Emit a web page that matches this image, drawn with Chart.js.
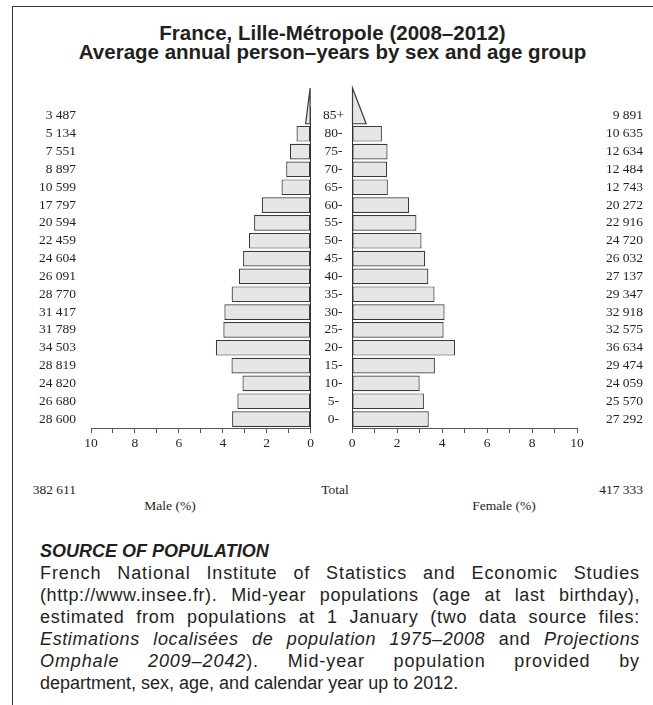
<!DOCTYPE html>
<html>
<head>
<meta charset="utf-8">
<script src="https://cdn.jsdelivr.net/npm/chart.js@4/dist/chart.umd.min.js"></script>
<style>
html,body{margin:0;padding:0;background:#fff;}
#page{position:relative;width:653px;height:705px;overflow:hidden;font-family:"Liberation Sans",Arial,Helvetica,sans-serif;color:#231f20;}
#frame{position:absolute;left:12px;top:6px;width:641px;height:699px;border-left:1px solid #333;border-top:1px solid #333;box-sizing:border-box;}
#title{position:absolute;left:12px;top:23px;width:641px;text-align:center;font-weight:bold;font-size:20.5px;line-height:19px;}
canvas{position:absolute;}
.lab{position:absolute;font-family:"Liberation Serif","Times New Roman",serif;font-size:13.5px;line-height:14px;color:#231f20;white-space:nowrap;}
#source{position:absolute;left:40px;width:600px;top:540px;font-size:18px;line-height:22px;}
#source .h{font-weight:bold;font-style:italic;}
#source .j{text-align:justify;text-align-last:justify;white-space:nowrap;}
</style>
</head>
<body>
<div id="page">
  <div id="frame"></div>
  <div id="title">France, Lille-Métropole (2008–2012)<br>Average annual person–years by sex and age group</div>
  <canvas id="male" width="316" height="378" style="left:0;top:80px;width:316px;height:378px"></canvas>
  <canvas id="female" width="337" height="378" style="left:316px;top:80px;width:337px;height:378px"></canvas>
  <div class="lab" id="maleTotal" style="right:577px;top:483px;text-align:right"></div>
  <div class="lab" id="totalLab" style="left:300px;width:70px;top:483px;text-align:center"></div>
  <div class="lab" id="femaleTotal" style="right:10px;top:483px;text-align:right"></div>
  <div class="lab" id="maleCap" style="left:110px;width:120px;top:499px;text-align:center"></div>
  <div class="lab" id="femaleCap" style="left:444px;width:120px;top:499px;text-align:center"></div>
  <div id="source">
    <div class="h">SOURCE OF POPULATION</div>
    <div class="j">French National Institute of Statistics and Economic Studies</div>
    <div class="j">(http://www.insee.fr). Mid-year populations (age at last birthday),</div>
    <div class="j">estimated from populations at 1 January (two data source files:</div>
    <div class="j"><i>Estimations localisées de population 1975–2008</i> and <i>Projections</i></div>
    <div class="j"><i>Omphale 2009–2042</i>). Mid-year population provided by</div>
    <div>department, sex, age, and calendar year up to 2012.</div>
  </div>
</div>
<script>
// ---- data ----
const ageGroups = ['85+','80-','75-','70-','65-','60-','55-','50-','45-','40-','35-','30-','25-','20-','15-','10-','5-','0-'];
const maleCounts = [3487,5134,7551,8897,10599,17797,20594,22459,24604,26091,28770,31417,31789,34503,28819,24820,26680,28600];
const femaleCounts = [9891,10635,12634,12484,12743,20272,22916,24720,26032,27137,29347,32918,32575,36634,29474,24059,25570,27292];
const maleTotal = 382611;
const femaleTotal = 417333;
const axisTickLabels = [0,2,4,6,8,10];
const axisMax = 10;
const captions = {male:'Male (%)', female:'Female (%)', total:'Total'};

// ---- justified source lines: spread part of the slack over letters ----
document.querySelectorAll('#source .j').forEach(line => {
  const probe = line.cloneNode(true);
  probe.style.cssText = 'position:absolute;visibility:hidden;display:inline-block;text-align:left;text-align-last:auto;';
  line.parentNode.appendChild(probe);
  const natural = probe.getBoundingClientRect().width;
  probe.remove();
  const n = line.textContent.length;
  const extra = line.clientWidth - natural;
  if (extra > 0) line.style.letterSpacing = Math.min(0.9, 0.45 * extra / n) + 'px';
});

// ---- helpers ----
const grand = maleTotal + femaleTotal;
const malePct = maleCounts.map(c => c / grand * 100);
const femalePct = femaleCounts.map(c => c / grand * 100);
const fmt = n => String(n).replace(/\B(?=(\d{3})+(?!\d))/g, ' ');
const serif = "'Liberation Serif','Times New Roman',serif";
const ink = '#231f20';
const lblFont = {family: serif, size: 13.5};

document.getElementById('maleTotal').textContent = fmt(maleTotal);
document.getElementById('femaleTotal').textContent = fmt(femaleTotal);
document.getElementById('totalLab').textContent = captions.total;
document.getElementById('maleCap').textContent = captions.male;
document.getElementById('femaleCap').textContent = captions.female;

const fixW = w => s => { s.width = w; };
const fixH = h => s => { s.height = h; };

const fill = '#e6e6e6', edge = '#3a3a3a';
const barStyle = {
  backgroundColor: c => c.dataIndex === 0 ? 'rgba(0,0,0,0)' : fill,
  borderColor: c => c.dataIndex === 0 ? 'rgba(0,0,0,0)' : edge,
  borderWidth: 1.2,
  borderSkipped: false,
  barPercentage: 0.88,
  categoryPercentage: 1
};

// open-ended age group drawn as a triangle (half-width base, two rows tall)
const openAgeTriangle = {
  id: 'openAgeTriangle',
  afterDatasetsDraw(chart) {
    const el = chart.getDatasetMeta(0).data[0];
    const ys = chart.scales.y;
    const band = Math.abs(ys.getPixelForValue(1) - ys.getPixelForValue(0));
    const bottom = el.y + el.height / 2;
    const top = bottom - 2 * band;
    const corner = el.base + (el.x - el.base) / 2;
    const ctx = chart.ctx;
    ctx.save();
    ctx.beginPath();
    ctx.moveTo(el.base, top);
    ctx.lineTo(el.base, bottom);
    ctx.lineTo(corner, bottom);
    ctx.closePath();
    ctx.fillStyle = fill;
    ctx.fill();
    ctx.lineWidth = 1.2;
    ctx.strokeStyle = edge;
    ctx.stroke();
    ctx.restore();
  }
};

function xAxis(reverse) {
  return {
    min: 0, max: axisMax, reverse,
    ticks: {stepSize: 1, autoSkip: false, maxRotation: 0, padding: 2, font: lblFont, color: ink,
      callback: v => axisTickLabels.includes(v) ? String(v) : ''},
    grid: {drawOnChartArea: false, tickLength: 5, color: '#555', lineWidth: 1},
    border: {display: true, color: '#555', width: 1},
    afterFit: fixH(30)
  };
}

const common = {
  indexAxis: 'y', responsive: false, maintainAspectRatio: false, animation: false,
  plugins: {legend: {display: false}, tooltip: {enabled: false}}
};

new Chart(document.getElementById('male'), {
  type: 'bar',
  data: {labels: ageGroups, datasets: [{label: captions.male, data: malePct, ...barStyle}]},
  options: {
    ...common,
    layout: {padding: {top: 27, right: 1, bottom: 0, left: 0}},
    scales: {
      x: xAxis(true),
      y: {position: 'right', ticks: {display: false, autoSkip: false}, grid: {display: false, drawTicks: false},
          border: {display: true, color: '#333', width: 1}, afterFit: fixW(0)},
      yL: {type: 'category', labels: maleCounts.map(fmt), position: 'left', offset: true,
           ticks: {autoSkip: false, padding: 15, font: lblFont, color: ink}, grid: {display: false, drawTicks: false},
           border: {display: false}, afterFit: fixW(91)}
    }
  },
  plugins: [openAgeTriangle]
});

new Chart(document.getElementById('female'), {
  type: 'bar',
  data: {labels: ageGroups, datasets: [{label: captions.female, data: femalePct, ...barStyle}]},
  options: {
    ...common,
    layout: {padding: {top: 27, right: 10, bottom: 0, left: 0}},
    scales: {
      x: xAxis(false),
      y: {position: 'left', ticks: {autoSkip: false, crossAlign: 'center', padding: 8, font: lblFont, color: ink},
          grid: {display: false, drawTicks: false}, border: {display: true, color: '#333', width: 1},
          afterFit: fixW(36)},
      yR: {type: 'category', labels: femaleCounts.map(fmt), position: 'right', offset: true,
           ticks: {autoSkip: false, crossAlign: 'far', font: lblFont, color: ink}, grid: {display: false, drawTicks: false},
           border: {display: false}, afterFit: fixW(66)}
    }
  },
  plugins: [openAgeTriangle]
});
</script>
</body>
</html>
